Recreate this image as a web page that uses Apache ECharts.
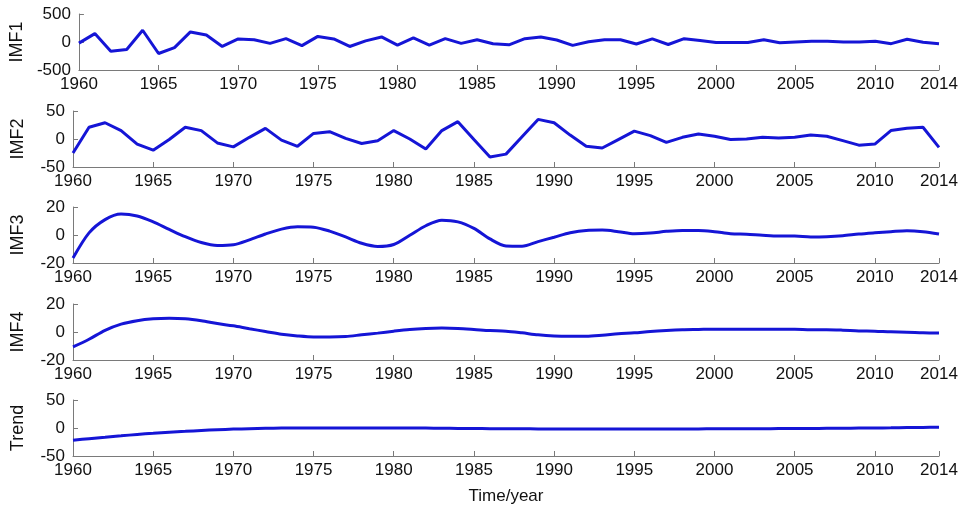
<!DOCTYPE html>
<html>
<head>
<meta charset="utf-8">
<script src="https://cdn.jsdelivr.net/npm/echarts@6/dist/echarts.min.js"></script>
<style>
  html, body { margin: 0; padding: 0; background: #ffffff; }
  #chart { width: 961px; height: 511px; }
</style>
</head>
<body>
<div id="chart"></div>
<script>
// Years 1960-2014
const years = [];
for (let y = 1960; y <= 2014; y++) years.push(y);

const panelNames = ['IMF1', 'IMF2', 'IMF3', 'IMF4', 'Trend'];
const xTickYears = [1960, 1965, 1970, 1975, 1980, 1985, 1990, 1995, 2000, 2005, 2010, 2014];
const yRanges = [[-500, 500, 500], [-50, 50, 50], [-20, 20, 20], [-20, 20, 20], [-50, 50, 50]];

const imf1 = [-20, 150, -165, -135, 210, -205, -100, 180, 125, -80,
  55, 40, -25, 60, -65, 100, 55, -80, 20, 90,
  -55, 75, -55, 60, -25, 40, -30, -50, 60, 90,
  35, -60, 5, 40, 40, -35, 55, -45, 60, 25,
  -10, -10, -10, 40, -15, 0, 15, 15, 0, 0,
  15, -30, 50, -5, -30];

const imf2 = [-25, 21, 29, 15, -9, -20, -1, 21, 15, -7,
  -14, 3, 19, -2, -13, 10, 13, 1, -8, -3,
  15, 0, -18, 15, 31, -1, -32, -27, 4, 35,
  29, 7, -13, -16, -1, 14, 6, -6, 3, 9,
  5, -1, 0, 3, 2, 3, 7, 5, -3, -11,
  -9, 15, 19, 21, -15];

const imf3 = [-16.5, 1.5, 11, 15, 13.6, 9.4, 4, -1.2, -5.4, -7.5,
  -7, -3.5, 0.7, 4.2, 5.9, 5.6, 2.8, -1.4, -5.9, -8.2,
  -6.8, -0.2, 6.6, 10.6, 9.4, 4.7, -2.8, -7.8, -8, -4.7,
  -1.6, 1.6, 3.3, 3.5, 2.4, 0.9, 1.4, 2.6, 3.3, 3.3,
  2.4, 0.9, 0.5, -0.2, -0.7, -0.7, -1.4, -1.2, -0.5, 0.7,
  1.6, 2.4, 3.1, 2.4, 0.7];

const imf4 = [-10.7, -5.2, 1.2, 5.6, 8.1, 9.4, 9.8, 9.4, 8, 6,
  4.4, 2.3, 0.4, -1.6, -2.8, -3.5, -3.5, -3.2, -2, -0.8,
  0.6, 1.8, 2.5, 2.8, 2.5, 1.8, 1, 0.6, -0.6, -2,
  -2.8, -3, -3, -2.3, -1.3, -0.6, 0.4, 1.1, 1.6, 1.8,
  2, 2, 2, 2, 2, 2, 1.6, 1.6, 1.3, 0.8,
  0.6, 0.1, -0.1, -0.6, -0.8];

const trend = [-22, -19, -16.5, -14, -11.5, -9.5, -7.5, -6, -4.5, -3,
  -2, -1.2, -0.5, -0.2, 0, 0.1, 0.1, 0.1, 0.1, 0,
  0, 0, -0.2, -0.5, -0.8, -1, -1.2, -1.3, -1.5, -1.6,
  -1.7, -1.8, -1.8, -1.8, -1.8, -1.8, -1.8, -1.8, -1.7, -1.6,
  -1.5, -1.4, -1.3, -1.2, -1.1, -1, -0.8, -0.6, -0.4, -0.2,
  0, 0.3, 0.7, 1.1, 1.5];

const seriesValues = [imf1, imf2, imf3, imf4, trend];
const smoothFlags = [false, false, 0.3, 0.3, 0.3];

const gridTops = [14, 111, 207, 304, 400];
const gridHeight = 56;
const axisColor = '#7a7a7a';
const lineColor = '#1515d6';
const fontFamily = '"Liberation Sans", Arial, sans-serif';

const grids = [], xAxes = [], yAxes = [], series = [];
panelNames.forEach((name, i) => {
  grids.push({ left: 73, right: 22, top: gridTops[i], height: gridHeight, containLabel: false });
  xAxes.push({
    type: 'value', gridIndex: i, min: 1960, max: 2014, interval: 5,
    axisLine: { show: true, onZero: false, lineStyle: { color: axisColor, width: 1 } },
    axisTick: { show: true, inside: true, length: 5, lineStyle: { color: axisColor } },
    splitLine: { show: false },
    axisLabel: {
      show: true, color: '#111', fontSize: 17, fontFamily: fontFamily, margin: 6,
      hideOverlap: false, showMinLabel: true, showMaxLabel: true,
      formatter: v => (xTickYears.indexOf(Math.round(v)) >= 0 ? String(Math.round(v)) : '')
    },
    name: i === 4 ? 'Time/year' : '',
    nameLocation: 'middle', nameGap: 32,
    nameTextStyle: { color: '#111', fontSize: 17, fontFamily: fontFamily }
  });
  yAxes.push({
    type: 'value', gridIndex: i,
    min: yRanges[i][0], max: yRanges[i][1], interval: yRanges[i][2],
    axisLine: { show: true, onZero: false, lineStyle: { color: axisColor, width: 1 } },
    axisTick: { show: true, inside: true, length: 5, lineStyle: { color: axisColor } },
    splitLine: { show: false },
    axisLabel: { color: '#111', fontSize: 17, fontFamily: fontFamily, margin: 8 },
    name: name, nameLocation: 'middle', nameRotate: 90, nameGap: 46,
    nameTextStyle: { color: '#111', fontSize: 18, fontFamily: fontFamily }
  });
  series.push({
    type: 'line', xAxisIndex: i, yAxisIndex: i,
    data: years.map((y, k) => [y, seriesValues[i][k]]),
    showSymbol: false, smooth: smoothFlags[i],
    lineStyle: { color: lineColor, width: 3 },
    animation: false
  });
});

const chart = echarts.init(document.getElementById('chart'), null, { renderer: 'canvas' });
chart.setOption({
  backgroundColor: '#ffffff',
  animation: false,
  grid: grids, xAxis: xAxes, yAxis: yAxes, series: series
});
</script>
</body>
</html>
